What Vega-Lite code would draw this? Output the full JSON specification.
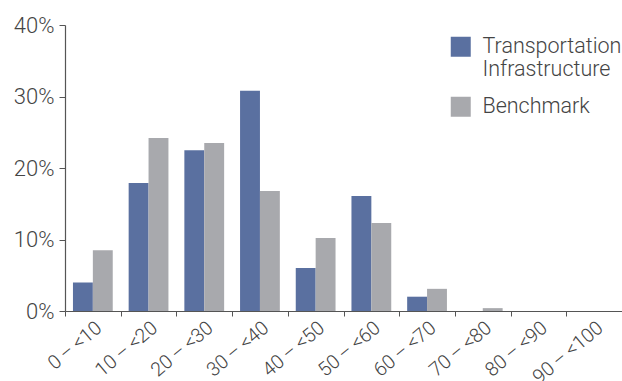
{
  "$schema": "https://vega.github.io/schema/vega-lite/v6.json",
  "width": 557,
  "height": 286,
  "padding": {"left": 65, "top": 25, "right": 0, "bottom": 70},
  "autosize": {"type": "none"},
  "background": "white",
  "config": {
    "view": {"stroke": null},
    "font": "Roboto",
    "axis": {"labelFont": "Roboto", "labelColor": "#444444", "domainColor": "#555555", "tickColor": "#555555", "grid": false}
  },
  "data": {
    "values": [
      {"bin": "0\u2009\u2013\u2009<10", "series": "Transportation Infrastructure", "value": 0.04},
      {"bin": "0\u2009\u2013\u2009<10", "series": "Benchmark", "value": 0.085},
      {"bin": "10\u2009\u2013\u2009<20", "series": "Transportation Infrastructure", "value": 0.179},
      {"bin": "10\u2009\u2013\u2009<20", "series": "Benchmark", "value": 0.242},
      {"bin": "20\u2009\u2013\u2009<30", "series": "Transportation Infrastructure", "value": 0.225},
      {"bin": "20\u2009\u2013\u2009<30", "series": "Benchmark", "value": 0.235},
      {"bin": "30\u2009\u2013\u2009<40", "series": "Transportation Infrastructure", "value": 0.308},
      {"bin": "30\u2009\u2013\u2009<40", "series": "Benchmark", "value": 0.168},
      {"bin": "40\u2009\u2013\u2009<50", "series": "Transportation Infrastructure", "value": 0.06},
      {"bin": "40\u2009\u2013\u2009<50", "series": "Benchmark", "value": 0.102},
      {"bin": "50\u2009\u2013\u2009<60", "series": "Transportation Infrastructure", "value": 0.161},
      {"bin": "50\u2009\u2013\u2009<60", "series": "Benchmark", "value": 0.123},
      {"bin": "60\u2009\u2013\u2009<70", "series": "Transportation Infrastructure", "value": 0.02},
      {"bin": "60\u2009\u2013\u2009<70", "series": "Benchmark", "value": 0.031},
      {"bin": "70\u2009\u2013\u2009<80", "series": "Transportation Infrastructure", "value": 0.0},
      {"bin": "70\u2009\u2013\u2009<80", "series": "Benchmark", "value": 0.004},
      {"bin": "80\u2009\u2013\u2009<90", "series": "Transportation Infrastructure", "value": 0.0},
      {"bin": "80\u2009\u2013\u2009<90", "series": "Benchmark", "value": 0.0},
      {"bin": "90\u2009\u2013\u2009<100", "series": "Transportation Infrastructure", "value": 0.0},
      {"bin": "90\u2009\u2013\u2009<100", "series": "Benchmark", "value": 0.0}
    ]
  },
  "mark": {"type": "bar"},
  "encoding": {
    "x": {
      "field": "bin", "type": "nominal", "sort": null,
      "scale": {"paddingInner": 0, "paddingOuter": 0},
      "axis": {"title": null, "labelAngle": -40, "labelFontSize": 19.5, "labelFontWeight": 300, "tickBand": "extent", "tickSize": 5, "labelPadding": 2, "domainWidth": 1.2}
    },
    "xOffset": {
      "field": "series", "type": "nominal",
      "sort": ["Transportation Infrastructure", "Benchmark"],
      "scale": {"paddingOuter": 0.4, "paddingInner": 0}
    },
    "y": {
      "field": "value", "type": "quantitative",
      "scale": {"domain": [0, 0.4], "nice": false},
      "axis": {"title": null, "format": ".0%", "values": [0, 0.1, 0.2, 0.3, 0.4], "labelFontSize": 22, "labelFontWeight": 300, "tickSize": 6, "labelPadding": 5, "domainWidth": 1.2}
    },
    "color": {
      "field": "series", "type": "nominal",
      "sort": ["Transportation Infrastructure", "Benchmark"],
      "scale": {"domain": ["Transportation Infrastructure", "Benchmark"], "range": ["#5a70a0", "#a8a9ad"]},
      "legend": {
        "title": null, "orient": "none", "legendX": 385, "legendY": 11,
        "symbolType": "square", "symbolSize": 400, "symbolStrokeWidth": 0,
        "labelFontSize": 21.5, "labelFontWeight": 300, "labelColor": "#444444", "labelFont": "Roboto",
        "labelLimit": 300, "rowPadding": 14, "labelOffset": 11,
        "labelExpr": "datum.label == 'Transportation Infrastructure' ? ['Transportation', 'Infrastructure'] : datum.label"
      }
    }
  }
}
